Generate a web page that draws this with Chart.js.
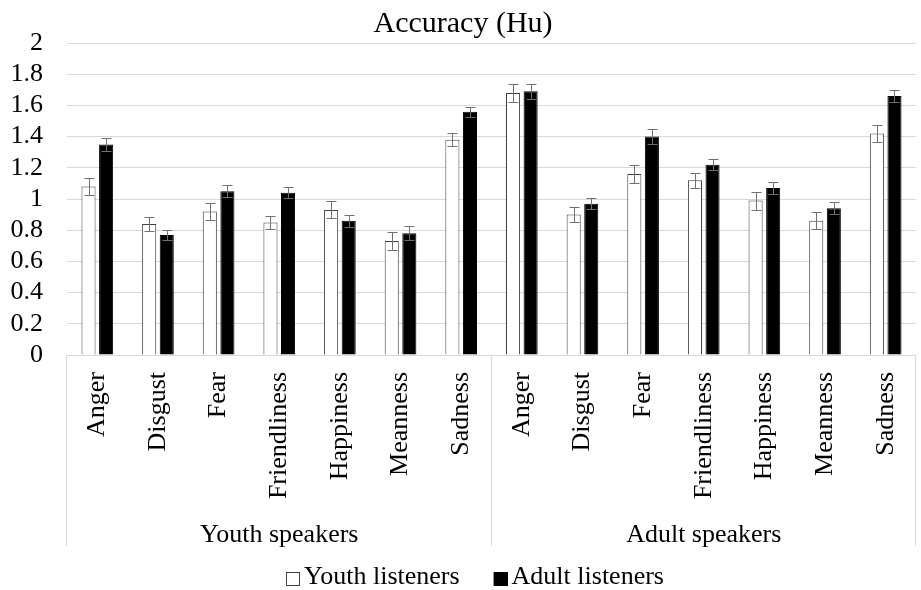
<!DOCTYPE html>
<html><head><meta charset="utf-8">
<script src="https://cdn.jsdelivr.net/npm/chart.js@4/dist/chart.umd.min.js"></script>
<style>html,body{margin:0;padding:0;background:#fff}#wrap{width:921px;height:590px;position:relative}</style>
</head><body><div id="wrap"><canvas id="c"></canvas></div>
<script>
const emotions = ['Anger','Disgust','Fear','Friendliness','Happiness','Meanness','Sadness'];
const speakerGroups = ['Youth speakers','Adult speakers'];
const seriesNames = ['Youth listeners','Adult listeners'];
const youthListeners = [1.08,0.84,0.92,0.85,0.93,0.73,1.38, 1.68,0.90,1.16,1.12,0.99,0.86,1.42];
const adultListeners = [1.35,0.77,1.05,1.04,0.86,0.78,1.56, 1.69,0.97,1.40,1.22,1.07,0.94,1.66];
const youthErr = [0.053,0.047,0.053,0.040,0.054,0.060,0.040, 0.060,0.047,0.060,0.047,0.058,0.054,0.053];
const adultErr = [0.040,0.030,0.040,0.034,0.040,0.045,0.032, 0.047,0.034,0.047,0.034,0.038,0.038,0.038];
const yTickLabels = ['0','0.2','0.4','0.6','0.8','1','1.2','1.4','1.6','1.8','2'];

const categoryLabels = [];
speakerGroups.forEach(() => emotions.forEach(e => categoryLabels.push(e)));

const FONT = '"Liberation Serif", "Times New Roman", serif';

const extras = {
  id: 'extras',
  afterDatasetsDraw(chart) {
    const ctx = chart.ctx, ys = chart.scales.y;
    ctx.save();
    ctx.strokeStyle = '#707070';
    ctx.lineWidth = 1;
    chart.data.datasets.forEach((ds, di) => {
      const meta = chart.getDatasetMeta(di);
      meta.data.forEach((bar, i) => {
        const v = ds.data[i], e = ds.errors[i];
        const x = Math.round(bar.x) + 0.5;
        const yt = Math.round(ys.getPixelForValue(v + e)) + 0.5;
        const yb = Math.round(ys.getPixelForValue(v - e)) + 0.5;
        ctx.beginPath();
        ctx.moveTo(x, yt); ctx.lineTo(x, yb);
        ctx.moveTo(x - 5, yt); ctx.lineTo(x + 5, yt);
        ctx.moveTo(x - 5, yb); ctx.lineTo(x + 5, yb);
        ctx.stroke();
      });
    });
    ctx.restore();
  },
  afterDraw(chart) {
    const ctx = chart.ctx, xs = chart.scales.x, x2 = chart.scales.x2;
    const n = emotions.length;
    ctx.save();
    ctx.strokeStyle = '#d9d9d9';
    ctx.lineWidth = 1;
    const seps = [xs.left];
    for (let g = 1; g < speakerGroups.length; g++) {
      seps.push((xs.getPixelForValue(g * n - 1) + xs.getPixelForValue(g * n)) / 2);
    }
    seps.push(xs.right);
    const y0 = chart.chartArea.bottom, y1 = x2.bottom - 3;
    seps.forEach(sx => {
      const px = Math.round(sx) - 0.5;
      ctx.beginPath(); ctx.moveTo(px, y0); ctx.lineTo(px, y1); ctx.stroke();
    });
    ctx.font = '26px ' + FONT;
    ctx.textBaseline = 'middle';
    ctx.textAlign = 'left';
    const box = 14, gap = 4, itemGap = 34;
    const items = chart.data.datasets.map(ds => ({ds, w: box + gap + ctx.measureText(ds.label).width}));
    const total = items.reduce((s, it) => s + it.w, 0) + itemGap * (items.length - 1);
    let lx = 475 - total / 2;
    const ly = 577;
    items.forEach(it => {
      ctx.fillStyle = it.ds.backgroundColor;
      ctx.fillRect(lx, ly - box / 2 + 2, box, box);
      ctx.strokeStyle = it.ds.borderColor;
      ctx.lineWidth = 1;
      ctx.strokeRect(Math.round(lx) + 0.5, Math.round(ly - box / 2 + 2) + 0.5, box - 1, box - 1);
      ctx.fillStyle = '#000';
      ctx.fillText(it.ds.label, lx + box + gap, ly);
      lx += it.w + itemGap;
    });
    ctx.restore();
  }
};

new Chart(document.getElementById('c'), {
  type: 'bar',
  data: {
    labels: categoryLabels,
    datasets: [
      { label: seriesNames[0], data: youthListeners, errors: youthErr,
        backgroundColor: '#ffffff', borderColor: '#404040', borderWidth: 1,
        categoryPercentage: 0.58, barPercentage: 0.8 },
      { label: seriesNames[1], data: adultListeners, errors: adultErr,
        backgroundColor: '#000000', borderColor: '#000000', borderWidth: 1,
        categoryPercentage: 0.58, barPercentage: 0.8 }
    ]
  },
  options: {
    responsive: true,
    maintainAspectRatio: false,
    animation: false,
    layout: { padding: { left: 10, right: 5, top: 0, bottom: 41 } },
    plugins: {
      legend: { display: false },
      tooltip: { enabled: false },
      title: {
        display: true, text: 'Accuracy (Hu)', color: '#000',
        font: { family: FONT, size: 30, weight: 'normal' },
        padding: { top: 6, bottom: 1 }
      }
    },
    scales: {
      x: {
        position: 'bottom',
        afterFit(scale) { scale.height = 144; scale.paddingRight = 0; },
        grid: { display: false, drawTicks: false },
        border: { display: true, color: '#d9d9d9' },
        ticks: { autoSkip: false, minRotation: 90, maxRotation: 90, padding: 17,
                 color: '#000', font: { family: FONT, size: 26 } }
      },
      x2: {
        type: 'category', labels: speakerGroups, position: 'bottom', offset: true,
        afterFit(scale) { scale.height = 50; scale.paddingRight = 0; },
        grid: { display: false, drawTicks: false },
        border: { display: false },
        ticks: { padding: 21, autoSkip: false, maxRotation: 0, color: '#000', font: { family: FONT, size: 26 } }
      },
      y: {
        min: 0, max: 2,
        afterFit(scale) { scale.width = 57; },
        grid: { color: '#d9d9d9', drawTicks: false },
        border: { display: false },
        ticks: { stepSize: 0.2, autoSkip: false, padding: 24, color: '#000',
                 font: { family: FONT, size: 26 },
                 callback: (v, i) => yTickLabels[i] }
      }
    }
  },
  plugins: [extras]
});
</script>
</body></html>
